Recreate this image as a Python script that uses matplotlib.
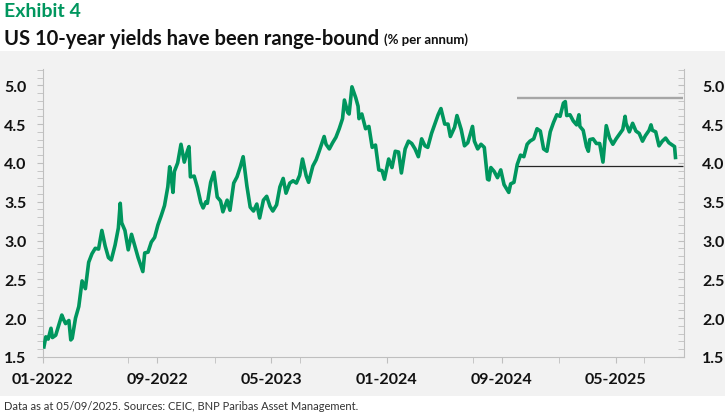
import matplotlib
matplotlib.use("Agg")
import matplotlib.pyplot as plt
import matplotlib.dates as mdates
import pandas as pd
from matplotlib.patches import Rectangle
from matplotlib.ticker import MultipleLocator

# US 10-year Treasury yield (% p.a.)
y2022 = [("2022-01-03", 1.63), ("2022-01-07", 1.76), ("2022-01-12", 1.73), ("2022-01-18", 1.87),
         ("2022-01-21", 1.75), ("2022-01-28", 1.78), ("2022-02-04", 1.92), ("2022-02-10", 2.04),
         ("2022-02-14", 1.98), ("2022-02-18", 1.93), ("2022-02-25", 1.97), ("2022-03-01", 1.72),
         ("2022-03-04", 1.74), ("2022-03-11", 2.00), ("2022-03-18", 2.15), ("2022-03-25", 2.48),
         ("2022-04-01", 2.38), ("2022-04-08", 2.72), ("2022-04-15", 2.83), ("2022-04-22", 2.90),
         ("2022-04-29", 2.89), ("2022-05-06", 3.13), ("2022-05-13", 2.93), ("2022-05-20", 2.78),
         ("2022-05-26", 2.75), ("2022-06-03", 2.94), ("2022-06-10", 3.16), ("2022-06-14", 3.48),
         ("2022-06-17", 3.23), ("2022-06-24", 3.13), ("2022-07-01", 2.88), ("2022-07-08", 3.08),
         ("2022-07-15", 2.93), ("2022-07-22", 2.78), ("2022-08-01", 2.60), ("2022-08-05", 2.84),
         ("2022-08-12", 2.85), ("2022-08-19", 2.98), ("2022-08-26", 3.04), ("2022-09-02", 3.20),
         ("2022-09-09", 3.32), ("2022-09-16", 3.45), ("2022-09-23", 3.69), ("2022-09-27", 3.95),
         ("2022-09-30", 3.83), ("2022-10-04", 3.62), ("2022-10-07", 3.89), ("2022-10-14", 4.00),
         ("2022-10-21", 4.24), ("2022-10-28", 4.01), ("2022-11-04", 4.16), ("2022-11-07", 4.21),
         ("2022-11-10", 3.82), ("2022-11-18", 3.83), ("2022-11-25", 3.68), ("2022-12-02", 3.49),
         ("2022-12-07", 3.42), ("2022-12-13", 3.50), ("2022-12-16", 3.48), ("2022-12-23", 3.75),
         ("2022-12-30", 3.88)]
y2023 = [("2023-01-06", 3.56), ("2023-01-13", 3.51), ("2023-01-18", 3.37), ("2023-01-27", 3.52),
         ("2023-02-02", 3.39), ("2023-02-10", 3.74), ("2023-02-17", 3.82), ("2023-02-24", 3.95),
         ("2023-03-02", 4.08), ("2023-03-10", 3.70), ("2023-03-17", 3.43), ("2023-03-24", 3.38),
         ("2023-03-31", 3.47), ("2023-04-06", 3.29), ("2023-04-14", 3.52), ("2023-04-21", 3.57),
         ("2023-04-28", 3.44), ("2023-05-04", 3.38), ("2023-05-12", 3.46), ("2023-05-19", 3.69),
         ("2023-05-26", 3.80), ("2023-06-01", 3.61), ("2023-06-09", 3.74), ("2023-06-16", 3.77),
         ("2023-06-23", 3.74), ("2023-06-30", 3.84), ("2023-07-06", 4.05), ("2023-07-14", 3.83),
         ("2023-07-19", 3.75), ("2023-07-28", 3.96), ("2023-08-04", 4.04), ("2023-08-11", 4.16),
         ("2023-08-21", 4.34), ("2023-08-25", 4.24), ("2023-09-01", 4.18), ("2023-09-08", 4.26),
         ("2023-09-15", 4.33), ("2023-09-22", 4.44), ("2023-09-29", 4.57), ("2023-10-03", 4.81),
         ("2023-10-10", 4.65), ("2023-10-13", 4.63), ("2023-10-19", 4.98), ("2023-10-27", 4.84),
         ("2023-11-01", 4.73), ("2023-11-03", 4.57), ("2023-11-09", 4.63), ("2023-11-17", 4.44),
         ("2023-11-24", 4.47), ("2023-12-01", 4.20), ("2023-12-08", 4.23), ("2023-12-15", 3.91),
         ("2023-12-22", 3.90), ("2023-12-27", 3.79)]
y2024 = [("2024-01-05", 4.05), ("2024-01-12", 3.94), ("2024-01-19", 4.15), ("2024-01-26", 4.14),
         ("2024-02-01", 3.87), ("2024-02-09", 4.18), ("2024-02-16", 4.28), ("2024-02-23", 4.25),
         ("2024-03-01", 4.18), ("2024-03-08", 4.08), ("2024-03-15", 4.31), ("2024-03-22", 4.22),
         ("2024-03-28", 4.20), ("2024-04-05", 4.38), ("2024-04-12", 4.50), ("2024-04-19", 4.62),
         ("2024-04-25", 4.70), ("2024-05-03", 4.50), ("2024-05-10", 4.50), ("2024-05-15", 4.34),
         ("2024-05-24", 4.46), ("2024-05-29", 4.61), ("2024-06-07", 4.43), ("2024-06-14", 4.22),
         ("2024-06-21", 4.26), ("2024-07-01", 4.47), ("2024-07-05", 4.28), ("2024-07-12", 4.18),
         ("2024-07-19", 4.24), ("2024-07-26", 4.20), ("2024-08-02", 3.79), ("2024-08-05", 3.78),
         ("2024-08-09", 3.94), ("2024-08-16", 3.89), ("2024-08-23", 3.81), ("2024-08-30", 3.91),
         ("2024-09-06", 3.72), ("2024-09-16", 3.62), ("2024-09-20", 3.73), ("2024-09-27", 3.75),
         ("2024-10-04", 3.98), ("2024-10-11", 4.10), ("2024-10-18", 4.08), ("2024-10-25", 4.24),
         ("2024-10-31", 4.28), ("2024-11-08", 4.31), ("2024-11-15", 4.44), ("2024-11-22", 4.41),
         ("2024-11-29", 4.18), ("2024-12-06", 4.15), ("2024-12-13", 4.40), ("2024-12-20", 4.52),
         ("2024-12-27", 4.62)]
y2025 = [("2025-01-03", 4.60), ("2025-01-10", 4.77), ("2025-01-14", 4.79), ("2025-01-17", 4.61),
         ("2025-01-24", 4.62), ("2025-01-31", 4.54), ("2025-02-07", 4.49), ("2025-02-12", 4.62),
         ("2025-02-14", 4.47), ("2025-02-21", 4.42), ("2025-02-28", 4.21), ("2025-03-04", 4.15),
         ("2025-03-07", 4.30), ("2025-03-14", 4.31), ("2025-03-21", 4.25), ("2025-03-28", 4.25),
         ("2025-04-04", 4.01), ("2025-04-09", 4.34), ("2025-04-11", 4.48), ("2025-04-18", 4.32),
         ("2025-04-25", 4.24), ("2025-05-02", 4.31), ("2025-05-09", 4.37), ("2025-05-16", 4.43),
         ("2025-05-21", 4.60), ("2025-05-23", 4.51), ("2025-05-30", 4.40), ("2025-06-06", 4.51),
         ("2025-06-13", 4.41), ("2025-06-20", 4.38), ("2025-06-27", 4.28), ("2025-07-03", 4.35),
         ("2025-07-11", 4.42), ("2025-07-15", 4.49), ("2025-07-18", 4.42), ("2025-07-25", 4.40),
         ("2025-08-01", 4.22), ("2025-08-08", 4.28), ("2025-08-15", 4.32), ("2025-08-22", 4.26),
         ("2025-08-29", 4.23), ("2025-09-03", 4.21), ("2025-09-05", 4.07)]

# trading range drawn from October 2024
range_start = "2024-10-04"
range_end = "2025-09-22"
range_high = 4.83
range_low = 3.96

green = "#00965e"
font = "Lato"

df = pd.DataFrame(y2022 + y2023 + y2024 + y2025, columns=["date", "yield"])
df["date"] = pd.to_datetime(df["date"])

fig = plt.figure(figsize=(7.25, 4.14), dpi=100)
fig.patches.append(Rectangle((0, 0.042), 1, 0.832, transform=fig.transFigure,
                             facecolor="#f2f2f2", edgecolor="none", zorder=-10))

ax = fig.add_axes([0.0593, 0.1353, 0.8841, 0.6957])
ax.set_facecolor("none")
ax.set_zorder(1)
ax.plot(df["date"], df["yield"], color=green, lw=2.6, solid_joinstyle="round", zorder=3)
ax.hlines(range_high, pd.Timestamp(range_start), pd.Timestamp(range_end), color="#a6a6a6", lw=1.7, zorder=2)
ax.hlines(range_low, pd.Timestamp(range_start), pd.Timestamp(range_end), color="#262626", lw=0.9, zorder=2)

ax.set_ylim(1.5, 5.21)
ax.set_xlim(pd.Timestamp("2022-01-01"), pd.Timestamp("2025-09-23"))

ax.set_xticks(pd.date_range("2022-01-01", periods=6, freq="8MS"))
ax.xaxis.set_minor_locator(mdates.MonthLocator(bymonth=[1, 7]))
ax.xaxis.set_major_formatter(mdates.DateFormatter("%m-%Y"))
ax.yaxis.set_major_locator(MultipleLocator(0.5))
ax.yaxis.set_minor_locator(MultipleLocator(0.1))
ax.yaxis.set_major_formatter(lambda v, p: f"{v:.1f}")

for s in ["top", "right"]:
    ax.spines[s].set_visible(False)
for s in ["left", "bottom"]:
    ax.spines[s].set_color("#bfbfbf")
ax.tick_params(axis="x", which="both", length=4, color="#bfbfbf", pad=7,
               labelsize=11.5, labelcolor="#111111")
ax.tick_params(axis="y", which="both", length=4, color="#bfbfbf", pad=8,
               labelsize=11.5, labelcolor="#111111")

ax2 = ax.twinx()
ax2.set_ylim(ax.get_ylim())
ax2.set_zorder(2)
ax2.set_facecolor("none")
ax2.yaxis.set_major_locator(MultipleLocator(0.5))
ax2.yaxis.set_minor_locator(MultipleLocator(0.1))
ax2.yaxis.set_major_formatter(lambda v, p: f"{v:.1f}")
for s in ["top", "left", "bottom"]:
    ax2.spines[s].set_visible(False)
ax2.spines["right"].set_color("#bfbfbf")
ax2.tick_params(axis="y", which="both", direction="in", length=4, color="#bfbfbf", pad=13,
                labelsize=11.5, labelcolor="#111111")

for lab in ax.get_xticklabels() + ax.get_yticklabels() + ax2.get_yticklabels():
    lab.set_fontfamily(font)
    lab.set_fontweight("bold")

fig.text(0.005, 0.992, "Exhibit 4", color=green, fontsize=14, fontweight="bold",
         family=font, va="top")
title = fig.text(0.005, 0.93, "US 10-year yields have been range-bound", color="#111111",
                 fontsize=14.5, fontweight="bold", family=font, va="top")
fig.canvas.draw()
bb = title.get_window_extent().transformed(fig.transFigure.inverted())
fig.text(bb.x1 + 0.007, bb.y0 + 0.008, "(% per annum)", color="#111111", fontsize=9.5,
         fontweight="bold", family=font, va="bottom")

fig.text(0.005, 0.018, "Data as at 05/09/2025. Sources: CEIC, BNP Paribas Asset Management.",
         color="#333333", fontsize=8, family=font, va="center")

fig.savefig("out.png", dpi=100)
